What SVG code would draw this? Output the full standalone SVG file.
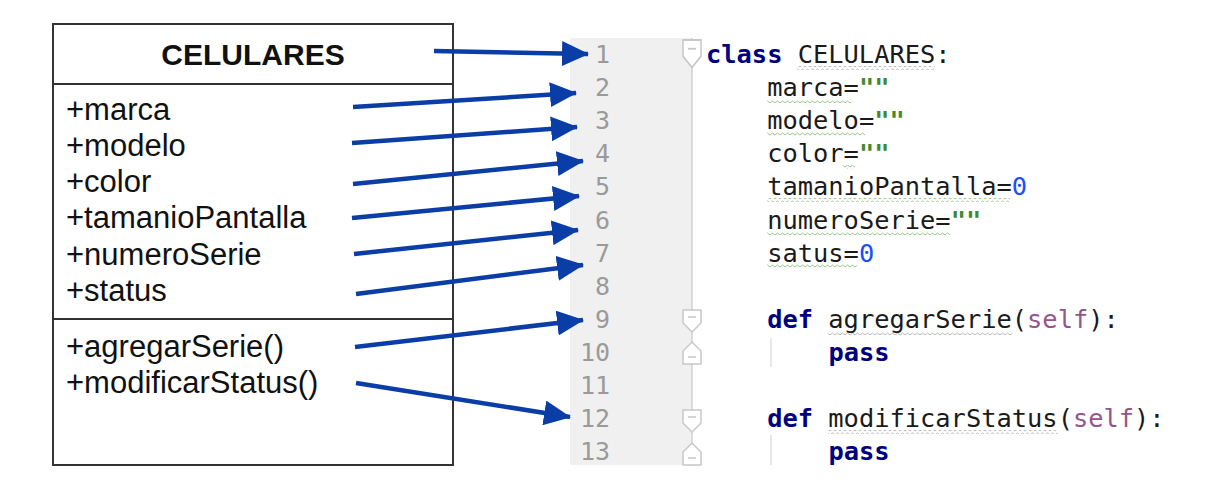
<svg xmlns="http://www.w3.org/2000/svg" width="1216" height="487" viewBox="0 0 1216 487">
<defs>
<style>
.uml{font-family:"Liberation Sans",Arial,sans-serif;font-size:31px;fill:#111}
.ttl{font-family:"Liberation Sans",Arial,sans-serif;font-size:30px;font-weight:bold;fill:#111}
.code{font-family:"DejaVu Sans Mono",monospace;font-size:25.4px;fill:#1a1a1a}
.ln{font-family:"DejaVu Sans Mono",monospace;font-size:25px;fill:#9a9a9a;text-anchor:end}
.kw{fill:#000080;font-weight:bold}
.str{fill:#3f8a2f;font-weight:bold}
.num{fill:#1a4fff}
.slf{fill:#94558d}
.arrow{stroke:#0a3ea6;stroke-width:4.5;fill:none;marker-end:url(#ah)}
.fold{fill:#fff;stroke:#c8c8c8;stroke-width:1.5}
</style>
<marker id="ah" markerUnits="userSpaceOnUse" markerWidth="27" markerHeight="25" viewBox="0 0 27 25" refX="26" refY="12.5" orient="auto">
<path d="M0,0 L27,12.5 L0,25 Z" fill="#0a3ea6"/>
</marker>
<pattern id="wg" width="5" height="4" patternUnits="userSpaceOnUse">
<path d="M0,3 L2.5,1 L5,3" fill="none" stroke="#8fc07f" stroke-width="0.9"/>
</pattern>
<pattern id="wy" width="5" height="4" patternUnits="userSpaceOnUse">
<path d="M0,3 L2.5,1 L5,3" fill="none" stroke="#b0b0b0" stroke-width="0.9"/>
</pattern>
<g id="fdown"><path class="fold" d="M0,0 H18 V13 L9,22 L0,13 Z"/><path d="M5,7 H13" stroke="#c8c8c8" stroke-width="1.5"/></g>
<g id="fup"><path class="fold" d="M0,22 H18 V9 L9,0 L0,9 Z"/><path d="M5,15 H13" stroke="#c8c8c8" stroke-width="1.5"/></g>
</defs>
<rect width="1216" height="487" fill="#fff"/>

<g id="uml-class">
<rect x="53" y="24" width="400" height="441" fill="#fff" stroke="#333" stroke-width="2"/>
<line x1="53" y1="84" x2="453" y2="84" stroke="#333" stroke-width="2"/>
<line x1="53" y1="319" x2="453" y2="319" stroke="#333" stroke-width="2"/>
<text class="ttl" x="253" y="65" text-anchor="middle">CELULARES</text>
<text class="uml" x="66" y="120">+marca</text>
<text class="uml" x="66" y="156">+modelo</text>
<text class="uml" x="66" y="192">+color</text>
<text class="uml" x="66" y="228">+tamanioPantalla</text>
<text class="uml" x="66" y="265">+numeroSerie</text>
<text class="uml" x="66" y="301">+status</text>
<text class="uml" x="66" y="357">+agregarSerie()</text>
<text class="uml" x="66" y="393">+modificarStatus()</text>
</g>

<g id="code-panel">
<rect x="570" y="38" width="122" height="427" fill="#f0f0f0"/>
<line x1="692" y1="38" x2="692" y2="465" stroke="#d2d2d2" stroke-width="1.5"/>
<text class="ln" x="610" y="63">1</text>
<text class="ln" x="610" y="96.1">2</text>
<text class="ln" x="610" y="129.2">3</text>
<text class="ln" x="610" y="162.3">4</text>
<text class="ln" x="610" y="195.4">5</text>
<text class="ln" x="610" y="228.5">6</text>
<text class="ln" x="610" y="261.6">7</text>
<text class="ln" x="610" y="294.7">8</text>
<text class="ln" x="610" y="327.8">9</text>
<text class="ln" x="610" y="360.9">10</text>
<text class="ln" x="610" y="394">11</text>
<text class="ln" x="610" y="427.1">12</text>
<text class="ln" x="610" y="460.2">13</text>
<use href="#fdown" transform="translate(683,40) scale(1,1.25)"/>
<use href="#fdown" x="683" y="310"/>
<use href="#fup" x="683" y="342"/>
<use href="#fdown" x="683" y="410"/>
<use href="#fup" x="683" y="443"/>
<line x1="771" y1="338" x2="771" y2="367" stroke="#d8d8d8" stroke-width="1.2"/>
<line x1="771" y1="435" x2="771" y2="465" stroke="#d8d8d8" stroke-width="1.2"/>
<rect x="797" y="66" width="138" height="4" fill="url(#wy)"/>
<rect x="767" y="99" width="84" height="4" fill="url(#wg)"/>
<rect x="767" y="132" width="98" height="4" fill="url(#wg)"/>
<rect x="843" y="165" width="12" height="4" fill="url(#wg)"/>
<rect x="767" y="198" width="243" height="4" fill="url(#wg)"/>
<rect x="767" y="231" width="183" height="4" fill="url(#wg)"/>
<rect x="767" y="264" width="90" height="4" fill="url(#wg)"/>
<rect x="828" y="331" width="184" height="4" fill="url(#wy)"/>
<rect x="828" y="430" width="230" height="4" fill="url(#wy)"/>
<text class="code" x="706" y="63"><tspan class="kw">class</tspan> CELULARES:</text>
<text class="code" x="767.2" y="96.1">marca=<tspan class="str">""</tspan></text>
<text class="code" x="767.2" y="129.2">modelo=<tspan class="str">""</tspan></text>
<text class="code" x="767.2" y="162.3">color=<tspan class="str">""</tspan></text>
<text class="code" x="767.2" y="195.4">tamanioPantalla=<tspan class="num">0</tspan></text>
<text class="code" x="767.2" y="228.5">numeroSerie=<tspan class="str">""</tspan></text>
<text class="code" x="767.2" y="261.6">satus=<tspan class="num">0</tspan></text>
<text class="code" x="767.2" y="327.8"><tspan class="kw">def</tspan> agregarSerie(<tspan class="slf">self</tspan>):</text>
<text class="code" x="828.4" y="360.9"><tspan class="kw">pass</tspan></text>
<text class="code" x="767.2" y="427.1"><tspan class="kw">def</tspan> modificarStatus(<tspan class="slf">self</tspan>):</text>
<text class="code" x="828.4" y="460.2"><tspan class="kw">pass</tspan></text>
</g>

<g id="connectors">
<line class="arrow" x1="434" y1="51" x2="588" y2="54"/>
<line class="arrow" x1="353" y1="107" x2="576" y2="93"/>
<line class="arrow" x1="352" y1="143" x2="577" y2="127"/>
<line class="arrow" x1="353" y1="184" x2="583" y2="161"/>
<line class="arrow" x1="352" y1="218" x2="579" y2="196"/>
<line class="arrow" x1="354" y1="254" x2="578" y2="230"/>
<line class="arrow" x1="356" y1="294" x2="583" y2="265"/>
<line class="arrow" x1="355" y1="347" x2="583" y2="320"/>
<line class="arrow" x1="356" y1="383" x2="570" y2="417"/>
</g>
</svg>
